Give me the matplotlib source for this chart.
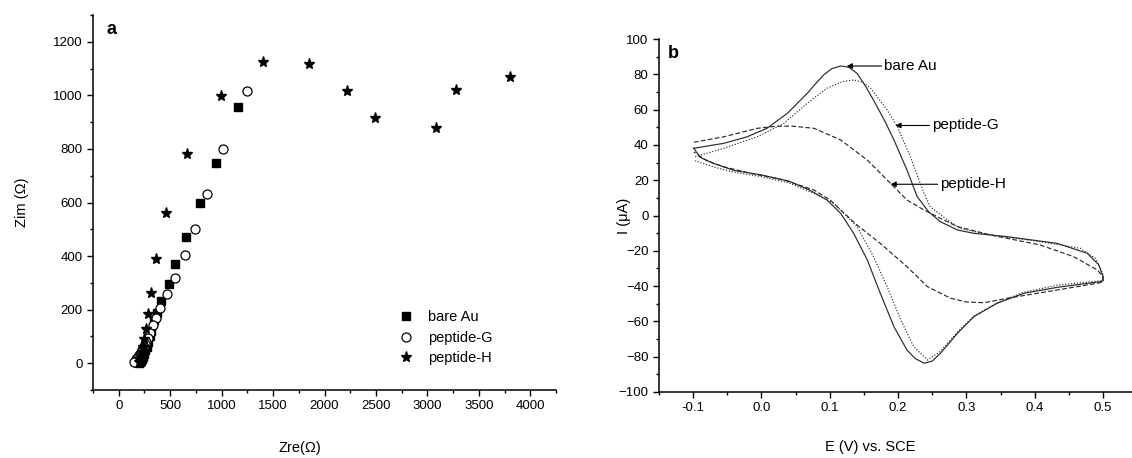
import matplotlib
matplotlib.use("Agg")
import matplotlib.pyplot as plt
from matplotlib.ticker import MultipleLocator

plt.rcParams['font.family'] = ['Liberation Sans', 'DejaVu Sans']

# ---------------- Panel a : Nyquist data ----------------
bare_zre = [1160, 950, 790, 650, 550, 487, 415, 376, 345, 318, 300, 285, 270, 258, 248, 238, 228, 218, 208, 200]
bare_zim = [955, 748, 600, 470, 370, 294, 232, 188, 160, 122, 100, 80, 62, 48, 36, 25, 16, 9, 4, 1]

pepG_zre = [1245, 1010, 860, 740, 645, 550, 470, 405, 367, 334, 305, 285, 268, 255, 243, 232, 222,
            212, 203, 195, 187, 180, 172, 163, 155, 146]
pepG_zim = [1017, 800, 630, 500, 405, 320, 257, 207, 170, 141, 112, 95, 80, 70, 62, 55, 48,
            42, 36, 30, 25, 20, 15, 10, 6, 4]

pepH_zre = [3800, 3276, 3080, 2494, 2222, 1852, 1404, 992, 665, 463, 358, 318, 285, 262, 245, 232, 222, 212, 205, 198]
pepH_zim = [1070, 1019, 880, 917, 1016, 1118, 1125, 998, 780, 560, 388, 262, 185, 128, 90, 60, 40, 25, 12, 5]

# ---------------- Panel b : CV data ----------------
au_fwd_E = [-0.099, -0.055, -0.021, 0.008, 0.038, 0.067, 0.080, 0.091, 0.103, 0.116, 0.128, 0.140, 0.152,
            0.164, 0.180, 0.194, 0.213, 0.228, 0.245, 0.262, 0.287, 0.311, 0.360, 0.433, 0.477, 0.494, 0.500]
au_fwd_I = [38.1, 40.9, 44.6, 49.4, 57.9, 69.2, 75.0, 79.6, 83.2, 84.7, 84.0, 80.5, 73.5,
            65.4, 54.0, 42.8, 25.8, 10.7, 2.0, -3.5, -8.2, -10.1, -12.0, -15.8, -21.4, -28.0, -34.7]
au_rev_E = [0.500, 0.496, 0.433, 0.384, 0.345, 0.311, 0.287, 0.262, 0.250, 0.238, 0.225, 0.213, 0.194,
            0.174, 0.155, 0.135, 0.116, 0.096, 0.070, 0.040, 0.000, -0.040, -0.070, -0.090, -0.099]
au_rev_I = [-37.0, -37.5, -40.7, -44.1, -49.7, -57.3, -66.7, -78.1, -82.5, -83.7, -81.0, -76.2, -63.0,
            -44.1, -25.2, -10.1, 1.2, 8.8, 14.5, 19.5, 23.0, 25.5, 29.5, 33.0, 38.1]

g_fwd_E = [-0.097, -0.055, -0.006, 0.033, 0.067, 0.096, 0.118, 0.135, 0.148, 0.160, 0.184, 0.199, 0.218,
           0.238, 0.247, 0.272, 0.291, 0.335, 0.408, 0.467, 0.489, 0.500]
g_fwd_I = [33.3, 38.1, 44.6, 52.2, 63.6, 72.1, 75.8, 76.8, 75.5, 72.1, 59.8, 50.3, 33.3,
           12.6, 5.0, -2.5, -7.3, -11.0, -14.8, -18.6, -24.3, -33.0]
g_rev_E = [0.500, 0.496, 0.433, 0.384, 0.345, 0.311, 0.287, 0.262, 0.243, 0.223, 0.204, 0.184, 0.164,
           0.140, 0.106, 0.080, 0.040, 0.000, -0.040, -0.070, -0.097]
g_rev_I = [-37.0, -37.0, -39.5, -43.5, -49.5, -57.0, -66.0, -77.0, -81.9, -74.3, -59.2, -40.3, -23.3,
           -6.3, 6.9, 12.0, 18.5, 22.0, 24.5, 27.5, 31.0]

h_fwd_E = [-0.099, -0.055, -0.006, 0.020, 0.043, 0.077, 0.116, 0.155, 0.189, 0.213, 0.238, 0.262, 0.287,
           0.335, 0.408, 0.457, 0.492, 0.500]
h_fwd_I = [41.5, 44.6, 49.4, 50.5, 50.7, 49.4, 42.8, 31.4, 18.2, 8.8, 3.1, -1.6, -6.3,
           -11.0, -16.7, -23.3, -30.9, -34.7]
h_rev_E = [0.500, 0.496, 0.433, 0.360, 0.326, 0.300, 0.277, 0.243, 0.213, 0.174, 0.140, 0.116, 0.100, 0.077,
           0.033, -0.016, -0.055, -0.080, -0.099]
h_rev_I = [-37.5, -38.1, -42.2, -46.9, -49.4, -49.0, -46.9, -40.3, -29.0, -15.8, -5.4, 3.1, 9.0, 14.4,
           20.1, 23.9, 27.6, 31.0, 36.0]

# ---------------- Figure ----------------
fig = plt.figure(figsize=(11.32, 4.58), dpi=100)

TICK_FS = 9.5
LAB_FS = 10.5

def style_axes(ax):
    for s in ['top', 'right']:
        ax.spines[s].set_visible(False)
    for s in ['left', 'bottom']:
        ax.spines[s].set_linewidth(1.1)
    ax.tick_params(which='major', direction='out', length=4.5, width=1.0, labelsize=TICK_FS, pad=3)
    ax.tick_params(which='minor', direction='out', length=2.5, width=1.0)

# Panel a
axa = fig.add_axes([93/1132, 68/458, 463/1132, 375/458])
style_axes(axa)
axa.plot(bare_zre, bare_zim, ls='none', marker='s', ms=5.5, color='black', label='bare Au')
axa.plot(pepG_zre, pepG_zim, ls='none', marker='o', ms=6.5, mfc='white', mec='black', mew=0.9, label='peptide-G')
axa.plot(pepH_zre, pepH_zim, ls='none', marker='*', ms=8, color='black', label='peptide-H')
axa.set_xlim(-250, 4250)
axa.set_ylim(-100, 1300)
axa.xaxis.set_minor_locator(MultipleLocator(250))
axa.yaxis.set_minor_locator(MultipleLocator(100))
axa.set_xticks([0, 500, 1000, 1500, 2000, 2500, 3000, 3500, 4000])
axa.set_yticks([0, 200, 400, 600, 800, 1000, 1200])
axa.set_xlabel('Zre(Ω)', fontsize=LAB_FS)
axa.set_ylabel('Zim (Ω)', fontsize=LAB_FS)
axa.xaxis.set_label_coords(0.447, -0.135)
axa.yaxis.set_label_coords(-0.138, 0.50)
axa.text(0.03, 0.96, 'a', transform=axa.transAxes, fontsize=13, fontweight='bold', va='center', ha='left')
leg = axa.legend(loc='lower right', bbox_to_anchor=(0.875, 0.05), frameon=False, fontsize=10.5,
                 handletextpad=0.9, labelspacing=0.45, borderaxespad=0, handlelength=1.2)

# Panel b
axb = fig.add_axes([659/1132, 66/458, 473/1132, 353/458])
style_axes(axb)
lc = '#2a2a2a'
axb.plot(au_fwd_E + au_rev_E, au_fwd_I + au_rev_I, color=lc, lw=0.85, ls='-')
axb.plot(g_fwd_E + g_rev_E, g_fwd_I + g_rev_I, color=lc, lw=0.85, ls=(0, (1, 1.5)))
axb.plot(h_fwd_E + h_rev_E, h_fwd_I + h_rev_I, color=lc, lw=0.85, ls=(0, (4, 2)))
axb.set_xlim(-0.15, 0.5425)
axb.set_ylim(-100, 100)
axb.set_xticks([-0.1, 0.0, 0.1, 0.2, 0.3, 0.4, 0.5])
axb.set_xticklabels(['-0.1', '0.0', '0.1', '0.2', '0.3', '0.4', '0.5'])
axb.xaxis.set_minor_locator(MultipleLocator(0.05))
axb.yaxis.set_major_locator(MultipleLocator(20))
axb.yaxis.set_minor_locator(MultipleLocator(10))
axb.set_xlabel('E (V) vs. SCE', fontsize=LAB_FS)
axb.set_ylabel('I (μA)', fontsize=LAB_FS)
axb.xaxis.set_label_coords(0.446, -0.136)
axb.yaxis.set_label_coords(-0.060, 0.50)
axb.text(0.018, 0.96, 'b', transform=axb.transAxes, fontsize=13, fontweight='bold', va='center', ha='left')

arrow = dict(arrowstyle='-|>', lw=0.8, color='black', mutation_scale=8, shrinkA=0, shrinkB=0)
axb.annotate('bare Au', xy=(0.125, 84.7), xytext=(0.18, 84.7), fontsize=11, va='center', ha='left',
             arrowprops=arrow)
axb.annotate('peptide-G', xy=(0.196, 51.0), xytext=(0.250, 51.0), fontsize=11, va='center', ha='left',
             arrowprops=arrow)
axb.annotate('peptide-H', xy=(0.189, 17.7), xytext=(0.262, 17.7), fontsize=11, va='center', ha='left',
             arrowprops=arrow)

fig.savefig('out.png', dpi=100)
